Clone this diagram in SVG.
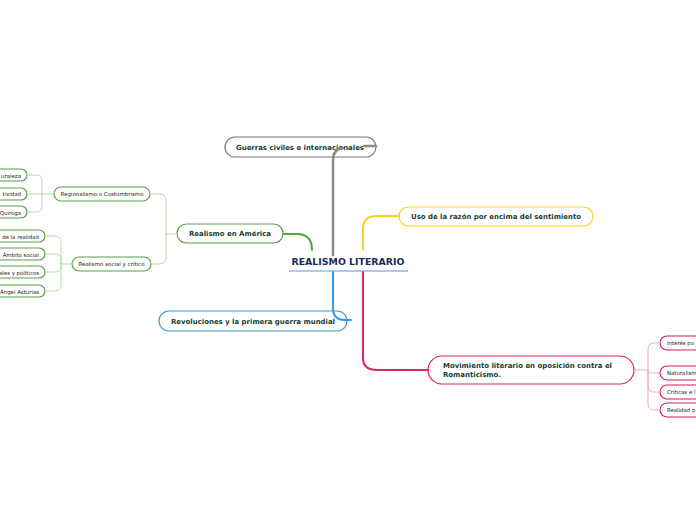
<svg xmlns="http://www.w3.org/2000/svg" width="696" height="520" viewBox="0 0 696 520">
<style>
.t{font-family:"DejaVu Sans",Verdana,sans-serif;font-weight:bold;fill:#163d33}
.s{font-family:"DejaVu Sans",Verdana,sans-serif;fill:#222;font-size:5.4px}
.n{fill:#fff;stroke-width:1.2}
.g{stroke:#5aa04a}.p{stroke:#d81b60}
.c{fill:none;stroke-linecap:round}
.lg{stroke:#b3dbab;stroke-width:1}
.lp{stroke:#f4a6c0;stroke-width:1}
</style>
<rect width="696" height="520" fill="#fff"/>
<g id="root">
<text x="348" y="264.5" text-anchor="middle" font-family="DejaVu Sans,Verdana,sans-serif" font-weight="bold" font-size="8.6" fill="#1b2a5a" textLength="113" lengthAdjust="spacingAndGlyphs">REALISMO LITERARIO</text>
<path d="M289,271 H408" stroke="#5b9bd5" stroke-width="1.2"/>
</g>
<g id="guerras">
<rect class="n" x="225" y="137" width="151" height="20" rx="10" stroke="#777"/>
<text class="t" x="300" y="149.5" text-anchor="middle" font-size="7" textLength="128" lengthAdjust="spacingAndGlyphs">Guerras civiles e internacionales</text>
</g>
<g id="america">
<rect class="n g" x="177" y="224" width="106" height="19" rx="9.5"/>
<text class="t" x="230" y="236" text-anchor="middle" font-size="7" textLength="82" lengthAdjust="spacingAndGlyphs">Realismo en América</text>
</g>
<g id="uso">
<rect class="n" x="399" y="207" width="194" height="19" rx="9.5" stroke="#f5d327"/>
<text class="t" x="496" y="219" text-anchor="middle" font-size="7" textLength="170" lengthAdjust="spacingAndGlyphs">Uso de la razón por encima del sentimiento</text>
</g>
<g id="revoluciones">
<rect class="n" x="159" y="311" width="188" height="20" rx="10" stroke="#3a9ad9"/>
<text class="t" x="253" y="323.5" text-anchor="middle" font-size="7" textLength="164" lengthAdjust="spacingAndGlyphs">Revoluciones y la primera guerra mundial</text>
</g>
<g id="movimiento">
<rect class="n" x="428" y="356" width="206" height="28" rx="14" stroke="#e0245e"/>
<text class="t" x="443" y="367.5" font-size="7" textLength="169" lengthAdjust="spacingAndGlyphs">Movimiento literario en oposición contra el</text>
<text class="t" x="443" y="377" font-size="7" textLength="58" lengthAdjust="spacingAndGlyphs">Romanticismo.</text>
</g>
<g id="regionalismo">
<rect class="n g" x="54" y="187" width="96" height="14" rx="7"/>
<text class="s" x="102" y="196" text-anchor="middle" textLength="83" lengthAdjust="spacingAndGlyphs">Regionalismo o Costumbrismo</text>
</g>
<g id="social">
<rect class="n g" x="72" y="257" width="79" height="14" rx="7"/>
<text class="s" x="111.5" y="266" text-anchor="middle" textLength="66" lengthAdjust="spacingAndGlyphs">Realismo social y crítico</text>
</g>
<g id="r1"><rect class="n g" x="-40" y="169" width="67" height="12" rx="6"/><text class="s" x="21" y="177.5" text-anchor="end">uraleza</text></g>
<g id="r2"><rect class="n g" x="-40" y="188" width="67" height="12" rx="6"/><text class="s" x="21" y="196" text-anchor="end">tividad</text></g>
<g id="r3"><rect class="n g" x="-40" y="206" width="67" height="12" rx="6"/><text class="s" x="21" y="214.5" text-anchor="end">Quiroga</text></g>
<g id="s1"><rect class="n g" x="-40" y="230" width="85" height="12" rx="6"/><text class="s" x="39" y="238.5" text-anchor="end">de la realidad</text></g>
<g id="s2"><rect class="n g" x="-40" y="248" width="85" height="12" rx="6"/><text class="s" x="39" y="256.5" text-anchor="end">Ámbito social</text></g>
<g id="s3"><rect class="n g" x="-40" y="266" width="85" height="12" rx="6"/><text class="s" x="39" y="274.5" text-anchor="end">ales y políticos</text></g>
<g id="s4"><rect class="n g" x="-40" y="285" width="85" height="12" rx="6"/><text class="s" x="39" y="293.5" text-anchor="end">Ángel Asturias</text></g>
<g id="m1"><rect class="n p" x="660" y="336" width="80" height="14" rx="7"/><text class="s" x="667" y="345">Interés po</text></g>
<g id="m2"><rect class="n p" x="660" y="366" width="80" height="14" rx="7"/><text class="s" x="667" y="375">Naturalism</text></g>
<g id="m3"><rect class="n p" x="660" y="385" width="80" height="14" rx="7"/><text class="s" x="667" y="394">Críticas e l</text></g>
<g id="m4"><rect class="n p" x="660" y="403" width="80" height="14" rx="7"/><text class="s" x="667" y="412">Realidad p</text></g>
<g id="connectors">
<path class="c" d="M333,255 V160 Q333,149 343,148 M364,146 H376" stroke="#8a8a8a" stroke-width="2.5"/>
<path class="c" d="M312,250 Q312,234 297,234 H284" stroke="#5aa04a" stroke-width="2"/>
<path class="c" d="M363,250 V229 Q363,216 376,216 H399" stroke="#f5d327" stroke-width="2"/>
<path class="c" d="M333,272 V308 Q333,320 345,320 H351" stroke="#2d9be0" stroke-width="2"/>
<path class="c" d="M363,272 V358 Q363,370 377,370 H428" stroke="#e0245e" stroke-width="2"/>
<path class="c lg" d="M177,234 H166 M166,234 V201 Q166,194 159,194 H150 M166,234 V257 Q166,264 159,264 H151"/>
<path class="c lg" d="M54,194 H42 M42,194 V181 Q42,175 36,175 H27 M42,194 H27 M42,194 V206 Q42,212 36,212 H27"/>
<path class="c lg" d="M72,264 H61 M61,264 V242 Q61,236 55,236 H45 M61,264 V260 Q61,254 55,254 H45 M61,264 V267 Q61,272 55,272 H45 M61,264 V285 Q61,291 55,291 H45"/>
<path class="c lp" d="M634,370 H648 M648,370 V349 Q648,343 654,343 H660 M648,370 V373 H660 M648,370 V386 Q648,392 654,392 H660 M648,370 V404 Q648,410 654,410 H660"/>
</g>
</svg>
